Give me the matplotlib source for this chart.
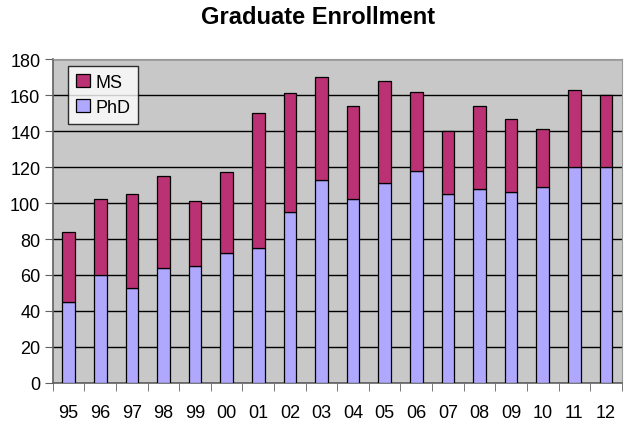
import matplotlib.pyplot as plt
import numpy as np

years = ["95", "96", "97", "98", "99", "00", "01", "02", "03",
         "04", "05", "06", "07", "08", "09", "10", "11", "12"]
phd = [45, 60, 53, 64, 65, 72, 75, 95, 113, 102, 111, 118, 105, 108, 106, 109, 120, 120]
total = [84, 102, 105, 115, 101, 117, 150, 161, 170, 154, 168, 162, 140, 154, 147, 141, 163, 160]
ms = [t - p for t, p in zip(total, phd)]

plt.rcParams['font.family'] = ['Liberation Sans', 'DejaVu Sans']

fig = plt.figure(figsize=(6.37, 4.27), dpi=100)
ax = fig.add_axes([0.083, 0.101, 0.893, 0.758])
ax.set_facecolor('#c8c8c8')

x = np.arange(len(years))
ax.bar(x, phd, width=0.4, color='#b0a8fc', edgecolor='black', linewidth=0.9, label='PhD', zorder=3)
ax.bar(x, ms, width=0.4, bottom=phd, color='#bb3274', edgecolor='black', linewidth=0.9, label='MS', zorder=3)

ax.set_xlim(-0.5, len(years) - 0.5)
ax.set_ylim(0, 180)
ax.set_yticks(range(0, 181, 20))
ax.yaxis.grid(True, color='black', linewidth=1)
ax.set_axisbelow(True)

ax.set_xticks(x)
ax.set_xticklabels(years)
ax.set_xticks(np.arange(-0.5, len(years)), minor=True)
ax.tick_params(axis='x', which='major', length=0, pad=15, labelsize=13)
ax.tick_params(axis='x', which='minor', length=6, direction='out', color='#606060')
ax.tick_params(axis='y', length=6, direction='out', color='#606060', labelsize=13, pad=3)

for s in ['left', 'bottom']:
    ax.spines[s].set_color('#606060')
    ax.spines[s].set_linewidth(1.2)
for s in ['top', 'right']:
    ax.spines[s].set_color('#999999')

handles, labels = ax.get_legend_handles_labels()
leg = ax.legend(handles[::-1], labels[::-1], loc='upper left', bbox_to_anchor=(0.027, 0.98),
                fontsize=13, frameon=True, fancybox=False, edgecolor='black',
                handlelength=0.75, handleheight=0.75, handletextpad=0.3, borderpad=0.45,
                labelspacing=0.45, borderaxespad=0)
leg.get_frame().set_linewidth(1)
leg.get_frame().set_facecolor('white')

fig.suptitle('Graduate Enrollment', fontsize=17, fontweight='bold', y=0.985)

fig.savefig('out.png', dpi=100)
